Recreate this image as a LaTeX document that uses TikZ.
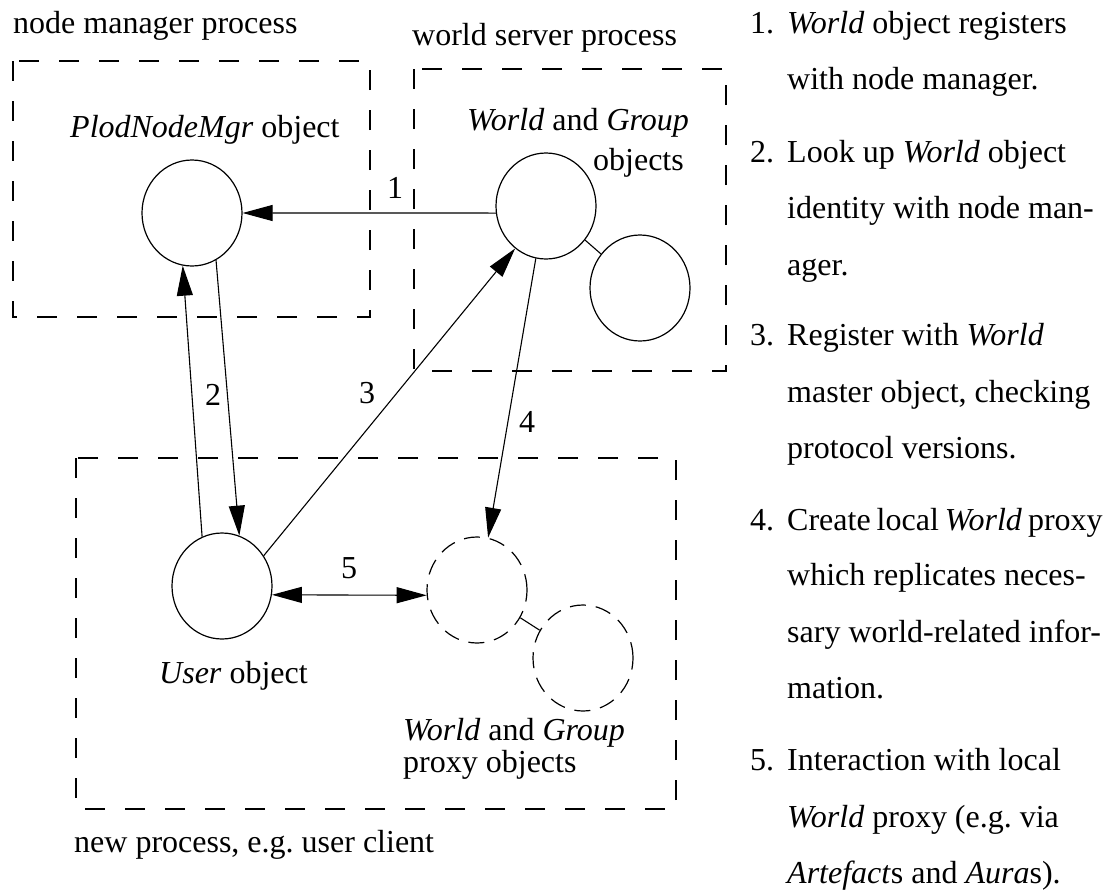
\documentclass[tikz,border=0pt]{standalone}
\usepackage{fontspec}
\setmainfont{Liberation Serif}
\usetikzlibrary{arrows.meta,shapes.geometric}
\frenchspacing

\begin{document}
\begin{tikzpicture}[x=1pt,y=-1pt,
  font=\fontsize{32}{38}\selectfont,
  obj/.style={ellipse,draw,line width=1.2pt,minimum width=100pt,minimum height=106pt,inner sep=0pt},
  proxy/.style={obj,dash pattern=on 16pt off 10pt},
  procbox/.style={draw,line width=1.5pt,dash pattern=on 20pt off 20pt},
  lbl/.style={inner sep=0pt,anchor=base west},
  num/.style={inner sep=0pt,anchor=base},
  link/.style={line width=1.1pt},
  msg/.style={line width=1.1pt,-{Triangle[length=30pt,width=16pt]}}]
\useasboundingbox (0,0) rectangle (1108,889);
% process boxes
\draw[procbox] (13,61) rectangle (370,317);
\draw[procbox] (414,69) rectangle (726,371);
\draw[procbox] (76,458) rectangle (676,809);
\node[lbl] (mgr-proc) at (13,33) {node manager process};
\node[lbl] (srv-proc) at (412,45) {world server process};
\node[lbl] (new-proc) at (74,852) {new process, e.g. user client};
% objects
\node[obj] (mgr) at (192,213) {};
\node[obj] (world) at (546,206) {};
\node[obj] (group) at (640,288) {};
\node[obj] (user) at (222,586) {};
\node[proxy] (pworld) at (477,590) {};
\node[proxy] (pgroup) at (583,658) {};
\node[lbl] (mgr-lbl) at (70,137) {\textit{PlodNodeMgr} object};
\node[lbl] (world-lbl) at (467,130) {\textit{World} and \textit{Group}};
\node[lbl,anchor=base east] (world-lbl-2) at (684,170) {objects};
\node[lbl] (user-lbl) at (159,683) {\textit{User} object};
\node[lbl] (pworld-lbl) at (403,740) {\textit{World} and \textit{Group}};
\node[lbl] (pworld-lbl-2) at (403,772) {proxy objects};
\draw[link] (world) -- (group);
\draw[link] (pworld) -- (pgroup);
% messages
\draw[msg] (world.188) -- (mgr.east);
\draw[msg] (user.112) -- (mgr.260);
\draw[msg] (mgr.297) -- (user.71);
\draw[msg] (user.36) -- (world.234);
\draw[msg] (world.259) -- (pworld.78);
\draw[msg,{Triangle[length=30pt,width=16pt]}-{Triangle[length=30pt,width=16pt]}] (user.350) -- (pworld.186);
\foreach \n/\x/\y in {1/395/198,2/213/405,3/367/403,4/527/432,5/349/578}{
  \node[num] (step-\n) at (\x,\y) {\n};
};
% list of steps
\foreach \n/\y in {1/33,2/162,3/345,4/530,5/770}{
  \node[lbl] (item-\n) at (750,\y) {\n.};
};
\foreach \i/\y/\txt in {1/33/{\textit{World} object registers},
    2/89/{with node manager.},
    3/162/{Look up \textit{World} object},
    4/218/{identity with node man-},
    5/275/{ager.},
    6/345/{Register with \textit{World}},
    7/402/{master object, checking},
    8/458/{protocol versions.},
    9/530/{\spaceskip=6pt\relax Create local \textit{World\/} proxy},
    10/585/{which replicates neces-},
    11/642/{sary world-related infor-},
    12/698/{mation.},
    13/770/{Interaction with local},
    14/827/{\textit{World} proxy (e.g. via},
    15/883/{\textit{Artefact}s and \textit{Aura}s).}}{
  \node[lbl] (line-\i) at (787,\y) {\txt};
};
\end{tikzpicture}
\end{document}
